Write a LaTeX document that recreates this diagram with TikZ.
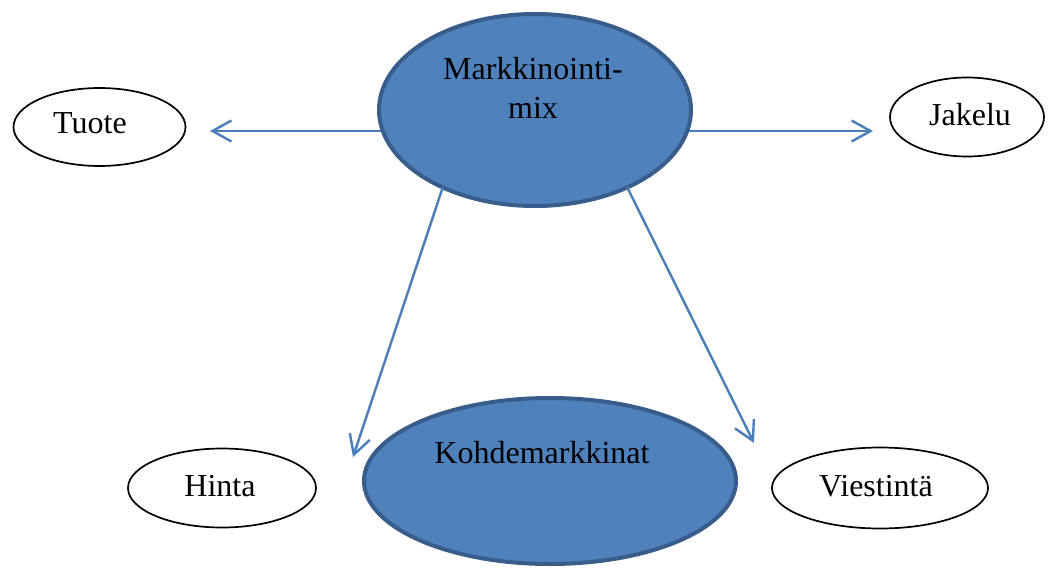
\documentclass[tikz,border=0pt]{standalone}
\usepackage{fontspec}
\setmainfont{Liberation Serif}
\usetikzlibrary{shapes.geometric,arrows.meta,backgrounds}
\definecolor{ellfill}{HTML}{4F81BD}
\definecolor{elldraw}{HTML}{385D8A}
\definecolor{arrcol}{HTML}{4A7EBB}
\tikzset{
  bigell/.style={ellipse, draw=elldraw, fill=ellfill, line width=4pt, inner sep=0pt, outer sep=0pt},
  smallell/.style={ellipse, draw=black, line width=1.7pt, inner sep=0pt, outer sep=0pt, fill=white},
  lbl/.style={anchor=base, inner sep=0pt, font=\fontsize{32}{38}\selectfont},
  arr/.style={draw=arrcol, line width=2.4pt, -{Straight Barb[length=19pt,width=21pt]}}
}
\begin{document}
\begin{tikzpicture}[x=1pt,y=-1pt]
\useasboundingbox (0,0) rectangle (1048,567);
% main ellipses
\node[bigell, minimum width=312pt, minimum height=192pt] (mix) at (535,110) {};
\node[bigell, minimum width=372pt, minimum height=166pt] (kohde) at (550,481) {};
% small ellipses
\node[smallell, minimum width=172pt, minimum height=78pt] (tuote) at (99.5,127) {};
\node[smallell, minimum width=154pt, minimum height=79pt] (jakelu) at (967,117) {};
\node[smallell, minimum width=188pt, minimum height=79pt] (hinta) at (222,488) {};
\node[smallell, minimum width=216pt, minimum height=81pt] (viest) at (880,488) {};
% texts
\node[lbl] (mixt1) at (533,80) {Markkinointi-};
\node[lbl] (mixt2) at (533,118) {mix};
\node[lbl] (kohdet) at (542,463) {Kohdemarkkinat};
\node[lbl] (tuotet) at (90,133) {Tuote};
\node[lbl] (jakelut) at (970,125) {Jakelu};
\node[lbl] (hintat) at (220,496) {Hinta};
\node[lbl] (viestt) at (876,496) {Viestintä};
% arrow tip coordinates
\coordinate (tipT) at (210,131);
\coordinate (tipJ) at (873,131);
\coordinate (tipH) at (353,457);
\coordinate (tipV) at (754,443);
\begin{pgfonlayer}{background}
\fill[white] (0,0) rectangle (1048,567);
% horizontal arrows start under the ellipse
\draw[arr] (mix.center |- tipT) -- (tipT);
\draw[arr] (mix.center |- tipJ) -- (tipJ);
\end{pgfonlayer}
% diagonal arrows
\draw[arr] (mix.220.7) -- (tipH);
\draw[arr] (mix.320.6) -- (tipV);
\end{tikzpicture}
\end{document}
